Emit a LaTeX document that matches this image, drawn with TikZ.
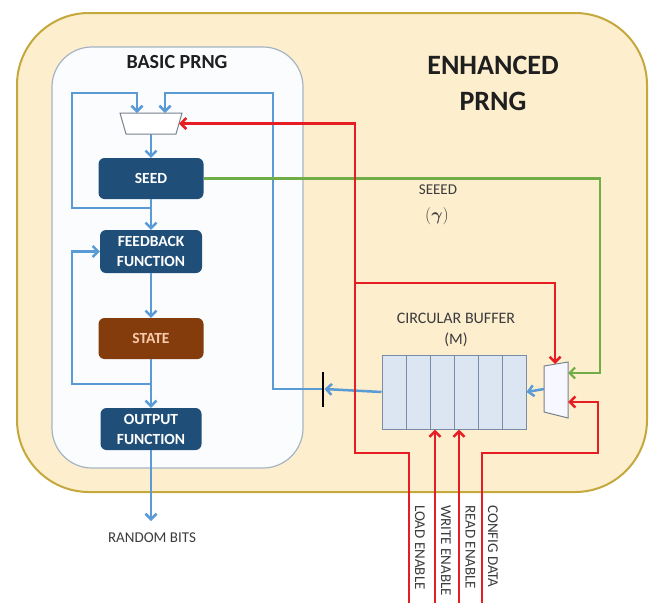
\documentclass[tikz,border=0pt]{standalone}
\usepackage{amsmath}
\usepackage{fontspec}
\setmainfont{Carlito}
\usetikzlibrary{arrows.meta}
\definecolor{outerfill}{RGB}{253,238,206}
\definecolor{outerdraw}{RGB}{196,168,60}
\definecolor{innerfill}{RGB}{250,252,254}
\definecolor{innerdraw}{RGB}{165,180,196}
\definecolor{blueline}{RGB}{91,155,213}
\definecolor{darkbox}{RGB}{31,78,121}
\definecolor{brownbox}{RGB}{132,60,12}
\definecolor{statetext}{RGB}{248,203,173}
\definecolor{redline}{RGB}{230,30,35}
\definecolor{greenline}{RGB}{112,173,71}
\definecolor{buffill}{RGB}{220,230,242}
\definecolor{bufdraw}{RGB}{120,140,165}
\definecolor{muxdraw}{RGB}{120,130,140}
\definecolor{textgrey}{RGB}{60,60,60}
\newcommand\bxfont{\bfseries\fontsize{15.5}{20}\selectfont}
\tikzset{
  blk/.style={draw=none, fill=darkbox, rounded corners=6pt, text=white, font=\bxfont,
    minimum width=105pt, minimum height=41pt, align=center, inner sep=0pt},
  tip/.style={-{Straight Barb[length=5.5pt,width=11pt]}},
  bw/.style={draw=blueline, line width=2.5pt},
  rw/.style={draw=redline, line width=2.5pt},
  gw/.style={draw=greenline, line width=2.2pt},
  greytext/.style={text=textgrey, font=\fontsize{16}{20}\selectfont, align=center, inner sep=0pt},
  rotlab/.style={text=textgrey, font=\fontsize{15}{18}\selectfont, rotate=-90, anchor=west, inner sep=0pt},
  muxshape/.style={draw=muxdraw, fill=white, line width=1pt}
}
\begin{document}
\begin{tikzpicture}[x=1pt,y=-1pt]
\useasboundingbox[fill=white] (0,0) rectangle (652,603);
% outer box
\draw[fill=outerfill, draw=outerdraw, line width=2pt, rounded corners=72pt] (17,13) rectangle (647,492);
% inner box
\draw[fill=innerfill, draw=innerdraw, line width=1.2pt, rounded corners=40pt] (52,47) rectangle (303,468);
\node[font=\bfseries\fontsize{20}{24}\selectfont, text=black!88] (basic) at (177,62) {BASIC PRNG};
\node[font=\bfseries\fontsize{28}{36}\selectfont, text=black!88, align=center] (enh) at (493,83) {ENHANCED\\PRNG};

% boxes
\node[blk] (seed) at (151,178.5) {SEED};
\node[blk, minimum width=102pt, minimum height=43pt] (fb) at (151,251.5) {FEEDBACK\\FUNCTION};
\node[blk, fill=brownbox, text=statetext] (state) at (151,338.5) {STATE};
\node[blk, minimum width=101pt, minimum height=42pt] (out) at (151,429) {OUTPUT\\FUNCTION};

% mux 1
\draw[muxshape] (120,113) -- (182,113) -- (176,134) -- (126,134) -- cycle;
\coordinate (m1a) at (137,113);
\coordinate (m1b) at (165,113);
\coordinate (m1out) at (151,134);
\coordinate (m1r) at (179,123.5);

% mux 2
\draw[muxshape, fill=white!92!blue!40] (544,366) -- (568,362) -- (568,418) -- (544,412) -- cycle;
\coordinate (m2top) at (555,364);
\coordinate (m2g) at (568,373);
\coordinate (m2r) at (568,402);
\coordinate (m2out) at (544,389);

% buffer
\node[draw=bufdraw, fill=buffill, line width=1pt, minimum width=144pt, minimum height=74pt, inner sep=0pt] (buf) at (454,392) {};
\foreach \k in {1,...,5} \draw[bufdraw, line width=1pt] (382+24*\k,355) -- (382+24*\k,429);
\node[greytext] (cbt) at (456,318) {CIRCULAR BUFFER};
\node[greytext] (cbm) at (456,340) {(M)};

% bar
\node[fill=black, minimum width=2.5pt, minimum height=35pt, inner sep=0pt] (bar) at (323,389) {};

% labels
\node[greytext, font=\fontsize{15}{18}\selectfont] (seeed) at (438,189.5) {SEEED};
\node[text=textgrey, inner sep=0pt, font=\fontsize{17}{19}\selectfont] (gam) at (437,216) {$(\boldsymbol{\gamma})$};
\node[greytext, font=\fontsize{15}{18}\selectfont] (rbt) at (152,538) {RANDOM BITS};

% coordinates
\coordinate (j1) at (151,208);
\coordinate (j2) at (151,384);
\coordinate (rb) at (151,521);
\coordinate (ld) at (409,603);
\coordinate (we) at (435,603);
\coordinate (re) at (459,603);
\coordinate (cd) at (482,603);
\coordinate (jr) at (355,283);

% blue connectors
\draw[bw, tip] (m1out) -- (seed.north);
\draw[bw, tip] (seed.south) -- (fb.north);
\draw[bw, tip] (j1) -| (72,93) -| (m1a);
\draw[bw, tip] (bar.west) -| (273,93) -| (m1b);
\draw[bw, tip] (buf.west) -- (bar.east);
\draw[bw, tip] (fb.south) -- (state.north);
\draw[bw, tip] (state.south) -- (out.north);
\draw[bw, tip] (j2) -| (72,251.5) -- (fb.west);
\draw[bw, tip] (out.south) -- (rb);
\draw[bw, tip] (m2out) -- (buf.east);

% green
\draw[gw, tip] (seed.east) -- (600,178.5) |- (m2g);

% red
\draw[rw, tip] (ld) |- (355,453) -- (355,123.5) -- (m1r);
\draw[rw, tip] (jr) -| (m2top);
\draw[rw, tip] (we) -- (we |- buf.south);
\draw[rw, tip] (re) -- (re |- buf.south);
\draw[rw, tip] (cd) |- (598,453) |- (m2r);

% rotated labels
\node[rotlab] (lel) at (420,505) {LOAD ENABLE};
\node[rotlab] (wel) at (446,505) {WRITE ENABLE};
\node[rotlab] (rel) at (470.5,505) {READ ENABLE};
\node[rotlab] (cdl) at (493,505) {CONFIG DATA};
\end{tikzpicture}
\end{document}
